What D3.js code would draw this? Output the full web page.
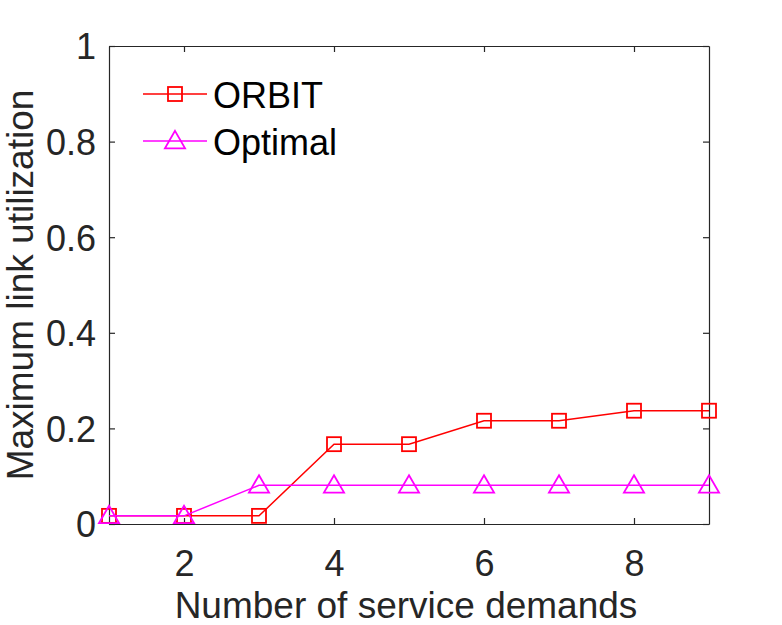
<!DOCTYPE html>
<html><head><meta charset="utf-8">
<script src="https://cdn.jsdelivr.net/npm/d3@7/dist/d3.min.js"></script>
<style>body{margin:0;background:#fff}svg{display:block}text{font-family:"Liberation Sans",Arial,Helvetica,sans-serif}</style>
</head><body>
<svg id="c" width="782" height="625"></svg>
<script>
const xValues = [1,2,3,4,5,6,7,8,9];
const orbit = [0.017,0.017,0.017,0.167,0.167,0.216,0.216,0.237,0.237];
const optimal = [0.017,0.017,0.081,0.081,0.081,0.081,0.081,0.081,0.081];
const xTicks = [2,4,6,8];
const yTicks = [0,0.2,0.4,0.6,0.8,1];
const seriesNames = ["ORBIT","Optimal"];
const seriesColors = ["#ff0000","#ff00ff"];

const svg = d3.select("#c");
const L=109,R=709,T=46,B=524;
const x = d3.scaleLinear().domain([1,9]).range([L,R]);
const y = d3.scaleLinear().domain([0,1]).range([B,T]);
const axisColor="#262626";

const gx = svg.append("g").attr("transform",`translate(0,${B})`)
  .call(d3.axisBottom(x).tickValues(xTicks).tickSizeInner(-6).tickSizeOuter(0).tickPadding(26).tickFormat(d3.format("d")));
const gxt = svg.append("g").attr("transform",`translate(0,${T})`)
  .call(d3.axisTop(x).tickValues(xTicks).tickSizeInner(-6).tickSizeOuter(0).tickFormat(""));
const gy = svg.append("g").attr("transform",`translate(${L},0)`)
  .call(d3.axisLeft(y).tickValues(yTicks).tickSizeInner(-6).tickSizeOuter(0).tickPadding(13).tickFormat(d=>d===0||d===1?d3.format("d")(d):d3.format(".1f")(d)));
const gyr = svg.append("g").attr("transform",`translate(${R},0)`)
  .call(d3.axisRight(y).tickValues(yTicks).tickSizeInner(-6).tickSizeOuter(0).tickFormat(""));
[gx,gxt,gy,gyr].forEach(g=>{
  g.select(".domain").attr("stroke",axisColor).attr("stroke-width",1.2);
  g.selectAll(".tick line").attr("stroke",axisColor).attr("stroke-width",1.2);
  g.selectAll(".tick text").attr("fill",axisColor).attr("font-size",36);
});
gx.selectAll(".tick text").attr("dy","0.71em");
gy.selectAll(".tick text").attr("dy","0.36em");

svg.append("text").attr("x",(175+637)/2).attr("y",618).attr("text-anchor","middle")
  .attr("font-size",37).attr("fill",axisColor).text("Number of service demands");
svg.append("text").attr("transform",`translate(33,285) rotate(-90)`).attr("text-anchor","middle")
  .attr("font-size",37).attr("fill",axisColor).text("Maximum link utilization");

const line = d3.line().x((d,i)=>x(xValues[i])).y(d=>y(d));
const datasets=[orbit,optimal];
const tri = d3.symbol().type(d3.symbolTriangle).size(175);

function marker(g,kind,cx,cy,color){
  if(kind===0){
    g.append("rect").attr("x",cx-7).attr("y",cy-7).attr("width",14).attr("height",14)
      .attr("fill","none").attr("stroke",color).attr("stroke-width",1.8);
  } else {
    g.append("path").attr("d",tri).attr("transform",`translate(${cx},${cy+1.5})`)
      .attr("fill","none").attr("stroke",color).attr("stroke-width",1.8);
  }
}

datasets.forEach((ds,k)=>{
  svg.append("path").datum(ds).attr("d",line).attr("fill","none")
    .attr("stroke",seriesColors[k]).attr("stroke-width",1.5);
  const g=svg.append("g");
  ds.forEach((v,i)=>marker(g,k,x(xValues[i]),y(v),seriesColors[k]));
});

seriesNames.forEach((n,k)=>{
  const ly = 94 + k*47;
  svg.append("line").attr("x1",143).attr("x2",207).attr("y1",ly).attr("y2",ly)
    .attr("stroke",seriesColors[k]).attr("stroke-width",1.5);
  marker(svg,k,175,ly,seriesColors[k]);
  svg.append("text").attr("x",213).attr("y",ly+14).attr("font-size",36)
    .attr("fill","#000").text(n);
});
</script>
</body></html>
